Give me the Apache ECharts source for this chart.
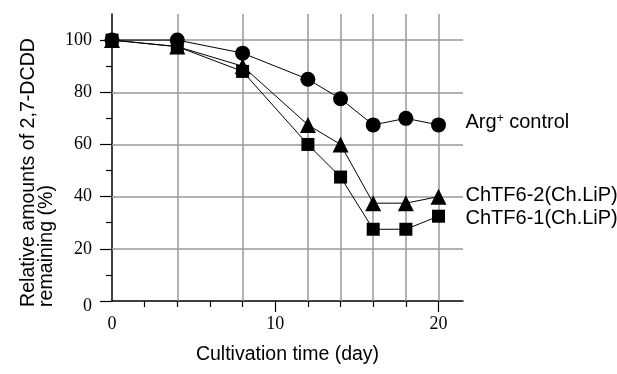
<!DOCTYPE html>
<html>
<head>
<meta charset="utf-8">
<script src="https://cdn.jsdelivr.net/npm/echarts@6/dist/echarts.min.js"></script>
<style>
    html, body {margin: 0; padding: 0; background: #fff;}
    #chart {width: 617px; height: 374px;}
</style>
</head>
<body>
<div id="chart"></div>
<script>
    // 培养天数
    var days = [0, 4, 8, 12, 14, 16, 18, 20];
    // 各株残留量 (%)
    var argControl = [100, 100, 95, 85, 77.5, 67.5, 70, 67.5];
    var chtf62 = [100, 97.5, 90, 67.5, 60, 37.5, 37.5, 40];
    var chtf61 = [100, 97.5, 88, 60, 47.5, 27.5, 27.5, 32.5];
    // 刻度
    var xLabels = [0, 10, 20];
    var xMinorTicks = [2, 4, 6, 8, 12, 14, 16, 18];
    var yLabels = [0, 20, 40, 60, 80, 100];
    var yMinorTicks = [10, 30, 50, 70, 90];
    // 网格线位置
    var xGrid = [4, 8, 12, 14, 16, 18, 20];
    var yGrid = [20, 40, 60, 80, 100];

    var serif = 'Liberation Serif';
    var sans = 'Liberation Sans';

    function pairs(ys) {
        return days.map(function (d, i) { return [d, ys[i]]; });
    }

    function makeSeries(name, label, ys, symbol, size, offset) {
        return {
            name: name,
            type: 'line',
            data: pairs(ys),
            symbol: symbol,
            symbolSize: size,
            z: 3,
            lineStyle: {color: '#000', width: 1},
            itemStyle: {color: '#000'},
            endLabel: {
                show: true,
                distance: 27,
                offset: offset,
                formatter: label,
                color: '#000',
                fontFamily: sans,
                fontSize: 20,
                rich: {
                    sup: {fontFamily: sans, fontSize: 12, color: '#000', verticalAlign: 'top', padding: [0, 0, 8, 0]}
                }
            }
        };
    }

    var chart = echarts.init(document.getElementById('chart'));
    chart.setOption({
        animation: false,
        grid: {left: 112, top: 14, right: 154, bottom: 73},
        xAxis: [
            {
                type: 'value', min: 0, max: 21.5,
                name: 'Cultivation time (day)',
                nameLocation: 'middle',
                nameGap: 44,
                nameTextStyle: {fontFamily: sans, fontSize: 19.5, color: '#000'},
                axisLine: {lineStyle: {color: '#000', width: 1.5}},
                axisTick: {customValues: [10, 20], length: 11, lineStyle: {color: '#000', width: 1.2}},
                axisLabel: {customValues: xLabels, margin: 14, fontFamily: serif, fontSize: 18, color: '#000'},
                splitLine: {show: false}
            },
            {
                type: 'value', min: 0, max: 21.5, position: 'bottom', offset: 0,
                axisLine: {show: false},
                axisTick: {customValues: xMinorTicks, length: 6, lineStyle: {color: '#000', width: 1.2}},
                axisLabel: {show: false},
                splitLine: {show: false}
            }
        ],
        yAxis: [
            {
                type: 'value', min: 0, max: 110,
                axisLine: {show: true, lineStyle: {color: '#000', width: 1.5}},
                axisTick: {show: true, customValues: yLabels, length: 12, lineStyle: {color: '#000', width: 1.2}},
                axisLabel: {
                    customValues: yLabels, margin: 20, fontFamily: serif, fontSize: 18, color: '#000',
                    formatter: function (v) { return v === 0 ? '{z|0}' : v; },
                    rich: {z: {fontFamily: serif, fontSize: 18, color: '#000', padding: [10, 0, 0, 0]}}
                },
                splitLine: {show: false}
            },
            {
                type: 'value', min: 0, max: 110, position: 'left', offset: 0,
                axisLine: {show: false},
                axisTick: {show: true, customValues: yMinorTicks, length: 6, lineStyle: {color: '#000', width: 1.2}},
                axisLabel: {show: false},
                splitLine: {show: false}
            }
        ],
        graphic: [
            {
                type: 'text',
                x: 38, y: 307,
                rotation: Math.PI / 2,
                style: {
                    text: 'Relative amounts of 2,7-DCDD\nremaining (%)',
                    fontFamily: sans, fontSize: 19.6, lineHeight: 18,
                    fill: '#000', align: 'left', verticalAlign: 'middle'
                }
            }
        ],
        series: [
            {
                // 网格线
                name: 'grid',
                type: 'line',
                data: [],
                z: 1,
                silent: true,
                markLine: {
                    silent: true,
                    z: 1,
                    symbol: ['none', 'none'],
                    label: {show: false},
                    lineStyle: {color: '#999', width: 1.5, type: 'solid'},
                    data: xGrid.map(function (d) { return {xAxis: d}; })
                        .concat(yGrid.map(function (v) { return {yAxis: v}; }))
                }
            },
            makeSeries('Arg+ control', 'Arg{sup|+} control', argControl, 'circle', 15, [0, -2]),
            makeSeries('ChTF6-2(Ch.LiP)', 'ChTF6-2(Ch.LiP)', chtf62, 'triangle', 16, [0, -1]),
            makeSeries('ChTF6-1(Ch.LiP)', 'ChTF6-1(Ch.LiP)', chtf61, 'rect', 13, [0, 2])
        ]
    });
</script>
</body>
</html>
